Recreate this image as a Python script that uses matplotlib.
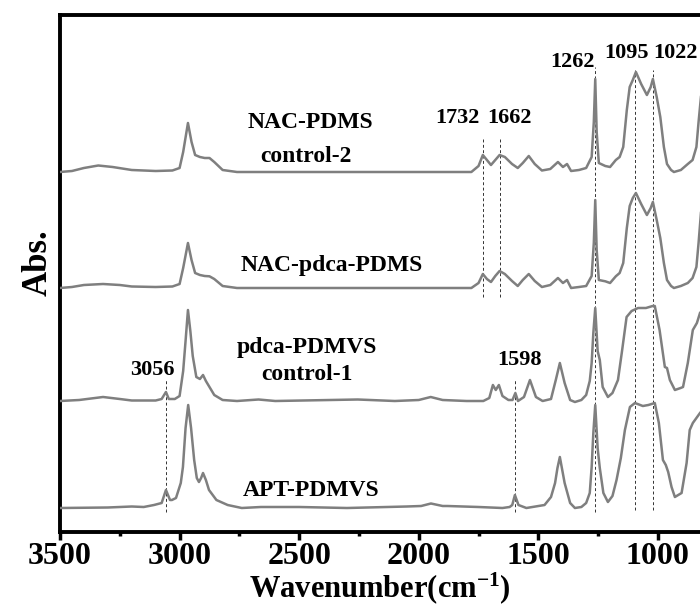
import matplotlib
matplotlib.use("Agg")
import matplotlib.pyplot as plt

# FTIR spectra (wavenumber, relative absorbance above each baseline)
nac_pdms_wn = [3500, 3450, 3400, 3340, 3280, 3200, 3100, 3030, 3000, 2985, 2965, 2950, 2935,
               2915, 2895, 2875, 2855, 2820, 2760, 2500, 2200, 1900, 1780, 1750, 1732, 1715,
               1698, 1680, 1662, 1640, 1610, 1586, 1565, 1540, 1515, 1485, 1450, 1418, 1397,
               1380, 1363, 1330, 1300, 1277, 1268, 1262, 1256, 1247, 1220, 1200, 1176, 1160,
               1145, 1130, 1118, 1105, 1092, 1070, 1046, 1030, 1021, 1005, 990, 975, 962,
               945, 933, 904, 875, 855, 839, 830, 820]
nac_pdms_h = [0, 1, 4, 6.5, 5, 2, 1, 1.5, 4, 20, 49, 30, 17,
              15, 14, 14, 10, 2, 0, 0, 0, 0, 0, 6, 17, 12,
              7, 12, 17, 15, 8, 4, 9, 16, 8, 1.5, 3, 10, 5,
              8, 1, 2, 4, 15, 50, 93, 40, 9, 6, 5, 12, 15,
              25, 62, 85, 92, 100, 88, 77, 85, 93, 75, 55, 25, 8,
              2, 0, 2, 8, 12, 25, 50, 75]

nac_pdca_wn = [3500, 3450, 3400, 3320, 3250, 3200, 3100, 3030, 3000, 2985, 2965, 2950, 2935,
               2915, 2895, 2875, 2855, 2820, 2760, 2500, 2200, 1900, 1780, 1750, 1732, 1715,
               1698, 1680, 1662, 1640, 1610, 1586, 1565, 1540, 1515, 1485, 1450, 1418, 1397,
               1380, 1363, 1330, 1300, 1277, 1268, 1262, 1256, 1247, 1220, 1200, 1176, 1160,
               1145, 1130, 1118, 1105, 1092, 1070, 1046, 1030, 1021, 1005, 990, 975, 962,
               945, 933, 904, 875, 855, 839, 830, 820]
nac_pdca_h = [0, 1, 3, 4, 3, 1.5, 1, 1.5, 4, 20, 45, 28, 15,
              13, 12, 11.7, 9, 2, 0, 0, 0, 0, 0, 5, 14, 9,
              6, 12, 17, 14, 7, 2, 8, 14, 7, 1, 3, 10, 5,
              8, 0, 1, 2, 12, 45, 88, 38, 8, 6.7, 5, 11.7, 15,
              25, 60, 82, 90, 95, 84, 73, 80, 86, 68, 50, 25, 8,
              2, 0, 2, 5, 10, 21, 45, 75]

pdca_pdmvs_wn = [3500, 3420, 3320, 3250, 3200, 3100, 3075, 3057, 3045, 3020, 3000, 2985, 2975,
                 2965, 2955, 2945, 2930, 2915, 2902, 2890, 2875, 2855, 2820, 2760, 2670, 2600,
                 2255, 2100, 2000, 1950, 1900, 1800, 1730, 1705, 1690, 1678, 1665, 1650, 1625,
                 1608, 1596, 1585, 1560, 1535, 1510, 1482, 1447, 1427, 1410, 1390, 1367, 1347,
                 1320, 1300, 1285, 1277, 1270, 1262, 1252, 1243, 1231, 1209, 1190, 1167, 1150,
                 1131, 1110, 1083, 1050, 1022, 1013, 993, 971, 962, 950, 929, 905, 895, 875,
                 854, 837, 824]
pdca_pdmvs_h = [0, 1, 4, 2, 0.5, 0.5, 2, 9, 2, 2, 5, 30, 60,
                91, 70, 45, 24, 22, 26, 20, 14, 6, 1, 0, 1.5, 0,
                1.5, 0, 1, 4, 1, 0, 0, 3, 16, 11, 16, 5, 1,
                1, 8, 0, 4, 21, 4, 0, 2, 21, 38, 18, 1, -1,
                1, 6, 20, 38, 68, 93, 50, 41, 14, 4, 8, 21, 50,
                84, 90, 93, 93, 95, 95, 71, 34, 33, 21, 11, 13, 14, 38,
                71, 78, 88]

apt_pdmvs_wn = [3500, 3300, 3200, 3150, 3107, 3075, 3057, 3040, 3032, 3015, 2995, 2986, 2975,
                2964, 2952, 2939, 2928, 2919, 2910, 2902, 2890, 2877, 2846, 2799, 2740, 2660,
                2500, 2300, 2050, 1990, 1949, 1900, 1880, 1750, 1650, 1620, 1609, 1598, 1583,
                1550, 1474, 1447, 1430, 1420, 1410, 1400, 1390, 1367, 1347, 1320, 1300, 1285,
                1277, 1270, 1262, 1252, 1243, 1228, 1209, 1190, 1173, 1155, 1138, 1117, 1096,
                1063, 1040, 1013, 996, 979, 967, 957, 943, 929, 901, 880, 867, 854, 824]
apt_pdmvs_h = [0, 0.5, 1.5, 1, 3, 5, 18, 8, 8, 10, 25, 41, 80,
               103, 80, 48, 30, 26, 30, 35, 28, 18, 8, 3, 0, 1,
               1, 0, 1.5, 2, 4.5, 2, 2, 1, 0, 1, 3, 13, 3,
               0, 3, 11, 25, 40, 51, 38, 25, 5, 0, 1, 5, 15,
               41, 75, 103, 60, 40, 15, 6, 12, 28, 50, 78, 101, 105,
               102, 103, 105, 85, 48, 43, 36, 21, 11, 15, 45, 78, 85, 95]

offsets = [360, 244, 131, 24]

# marked bands: (wavenumber, y from, y to)
marks_wn = [3056, 1598, 1732, 1662, 1262, 1095, 1022]
marks_y0 = [20, 20, 235, 235, 20, 22, 22]
marks_y1 = [152, 152, 394, 394, 465, 462, 462]

plt.rcParams['font.family'] = ['Liberation Serif', 'DejaVu Serif']
plt.rcParams['font.weight'] = 'bold'
plt.rcParams['mathtext.fontset'] = 'custom'
plt.rcParams['mathtext.rm'] = 'Liberation Serif:bold'
plt.rcParams['mathtext.default'] = 'rm'

fig = plt.figure(figsize=(7, 6.16), dpi=100)
ax = fig.add_axes([60 / 700, 84 / 616, 640 / 700, 517 / 616])

line_color = '#7f7f7f'
series = [(nac_pdms_wn, nac_pdms_h), (nac_pdca_wn, nac_pdca_h),
          (pdca_pdmvs_wn, pdca_pdmvs_h), (apt_pdmvs_wn, apt_pdmvs_h)]
for (wn, h), off in zip(series, offsets):
    ax.plot(wn, [v + off for v in h], color=line_color, lw=1.8, zorder=3)

for w, y0, y1 in zip(marks_wn, marks_y0, marks_y1):
    ax.plot([w, w], [y0, y1], color='#333333', lw=0.7, ls=(0, (3, 2.5)), zorder=2)

ax.set_xlim(3500, 824)
ax.set_ylim(0, 517)

fs_num = 16
fs_lab = 17
ax.text(2455, 409, 'NAC-PDMS', fontsize=fs_lab, ha='center', va='center')
ax.text(2470, 375, 'control-2', fontsize=fs_lab, ha='center', va='center')
ax.text(1840, 414, '1732', fontsize=fs_num, ha='center', va='center')
ax.text(1619, 414, '1662', fontsize=fs_num, ha='center', va='center')
ax.text(1262, 470, '1262', fontsize=fs_num, ha='right', va='center')
ax.text(1132, 479, '1095', fontsize=fs_num, ha='center', va='center')
ax.text(925, 479, '1022', fontsize=fs_num, ha='center', va='center')
ax.text(2363, 267, 'NAC-pdca-PDMS', fontsize=fs_lab, ha='center', va='center')
ax.text(2467, 185, 'pdca-PDMVS', fontsize=fs_lab, ha='center', va='center')
ax.text(2467, 157, 'control-1', fontsize=fs_lab, ha='center', va='center')
ax.text(3115, 162, '3056', fontsize=fs_num, ha='center', va='center')
ax.text(1577, 172, '1598', fontsize=fs_num, ha='center', va='center')
ax.text(2450, 42, 'APT-PDMVS', fontsize=fs_lab, ha='center', va='center')

ax.set_xticks([3500, 3000, 2500, 2000, 1500, 1000])
ax.set_xticks([3250, 2750, 2250, 1750, 1250], minor=True)
ax.set_yticks([])
ax.tick_params(axis='x', which='major', direction='out', length=6, width=2.5,
               labelsize=23, pad=1)
ax.tick_params(axis='x', which='minor', direction='out', length=3, width=2.5)
ax.set_xlabel('Wavenumber(cm$^{-1}$)', fontsize=22, fontweight='bold', labelpad=0)

for s in ['left', 'bottom', 'top']:
    ax.spines[s].set_linewidth(2.8)
ax.spines['right'].set_visible(False)

fig.text(38 / 700, 1 - 263 / 616, 'Abs.', rotation=90, fontsize=25,
         fontweight='bold', ha='center', va='center')

fig.savefig('out.png', dpi=100)
